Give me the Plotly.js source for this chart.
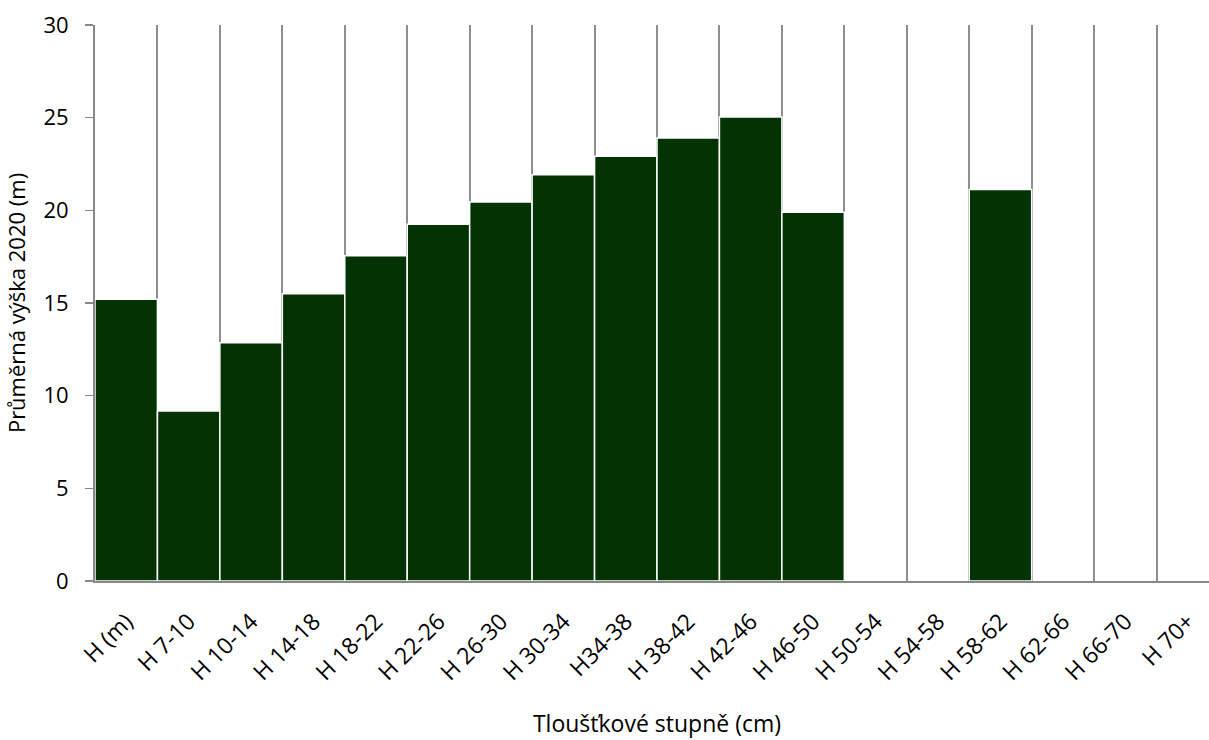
<!DOCTYPE html>
<html>
<head>
<meta charset="utf-8">
<script src="https://cdn.plot.ly/plotly-3.0.1.min.js"></script>
<style>
html,body{margin:0;padding:0;overflow:hidden;background:#fff;}
#chart{width:1220px;height:740px;}
</style>
</head>
<body>
<div id="chart"></div>
<script>
const categories = ["H (m)", "H 7-10", "H 10-14", "H 14-18", "H 18-22", "H 22-26", "H 26-30", "H 30-34", "H34-38", "H 38-42", "H 42-46", "H 46-50", "H 50-54", "H 54-58", "H 58-62", "H 62-66", "H 66-70", "H 70+"];
const heights = [15.2, 9.17, 12.85, 15.5, 17.55, 19.25, 20.45, 21.92, 22.92, 23.9, 25.03, 19.9, null, null, 21.12, null, null, null];
const yTicks = [0, 5, 10, 15, 20, 25, 30];

const FAM = "Open Sans, Lato, sans-serif";

const trace = {
  type: "bar",
  x: categories,
  y: heights,
  marker: {color: "#033303", line: {color: "#ffffff", width: 1.5}},
  hoverinfo: "x+y"
};

const layout = {
  width: 1220,
  height: 740,
  margin: {l: 95, r: 1, t: 25, b: 159},
  paper_bgcolor: "#fff",
  plot_bgcolor: "#fff",
  bargap: 0,
  showlegend: false,
  font: {family: FAM, size: 22, color: "#000"},
  xaxis: {
    type: "category",
    tickson: "boundaries",
    showgrid: true,
    gridcolor: "#8f8f8f",
    gridwidth: 2,
    showline: true,
    linecolor: "#888888",
    linewidth: 2,
    ticks: "",
    tickangle: -45,
    ticklabelstandoff: 16,
    tickfont: {family: FAM, size: 23, color: "#000"},
    title: {text: "Tloušťkové stupně (cm)", font: {family: FAM, size: 23, color: "#000"}, standoff: 30},
    automargin: false,
    fixedrange: true
  },
  yaxis: {
    range: [0, 30],
    tickvals: yTicks,
    showgrid: false,
    zeroline: false,
    showline: true,
    linecolor: "#888888",
    linewidth: 2,
    ticks: "outside",
    ticklen: 8,
    tickcolor: "#888888",
    tickwidth: 1.5,
    ticklabelstandoff: 12,
    tickfont: {family: FAM, size: 22, color: "#000"},
    title: {text: "Průměrná výška 2020 (m)", font: {family: FAM, size: 22, color: "#000"}, standoff: 12},
    automargin: false,
    fixedrange: true
  }
};

Plotly.newPlot("chart", [trace], layout, {displayModeBar: false, staticPlot: true});
</script>
</body>
</html>
